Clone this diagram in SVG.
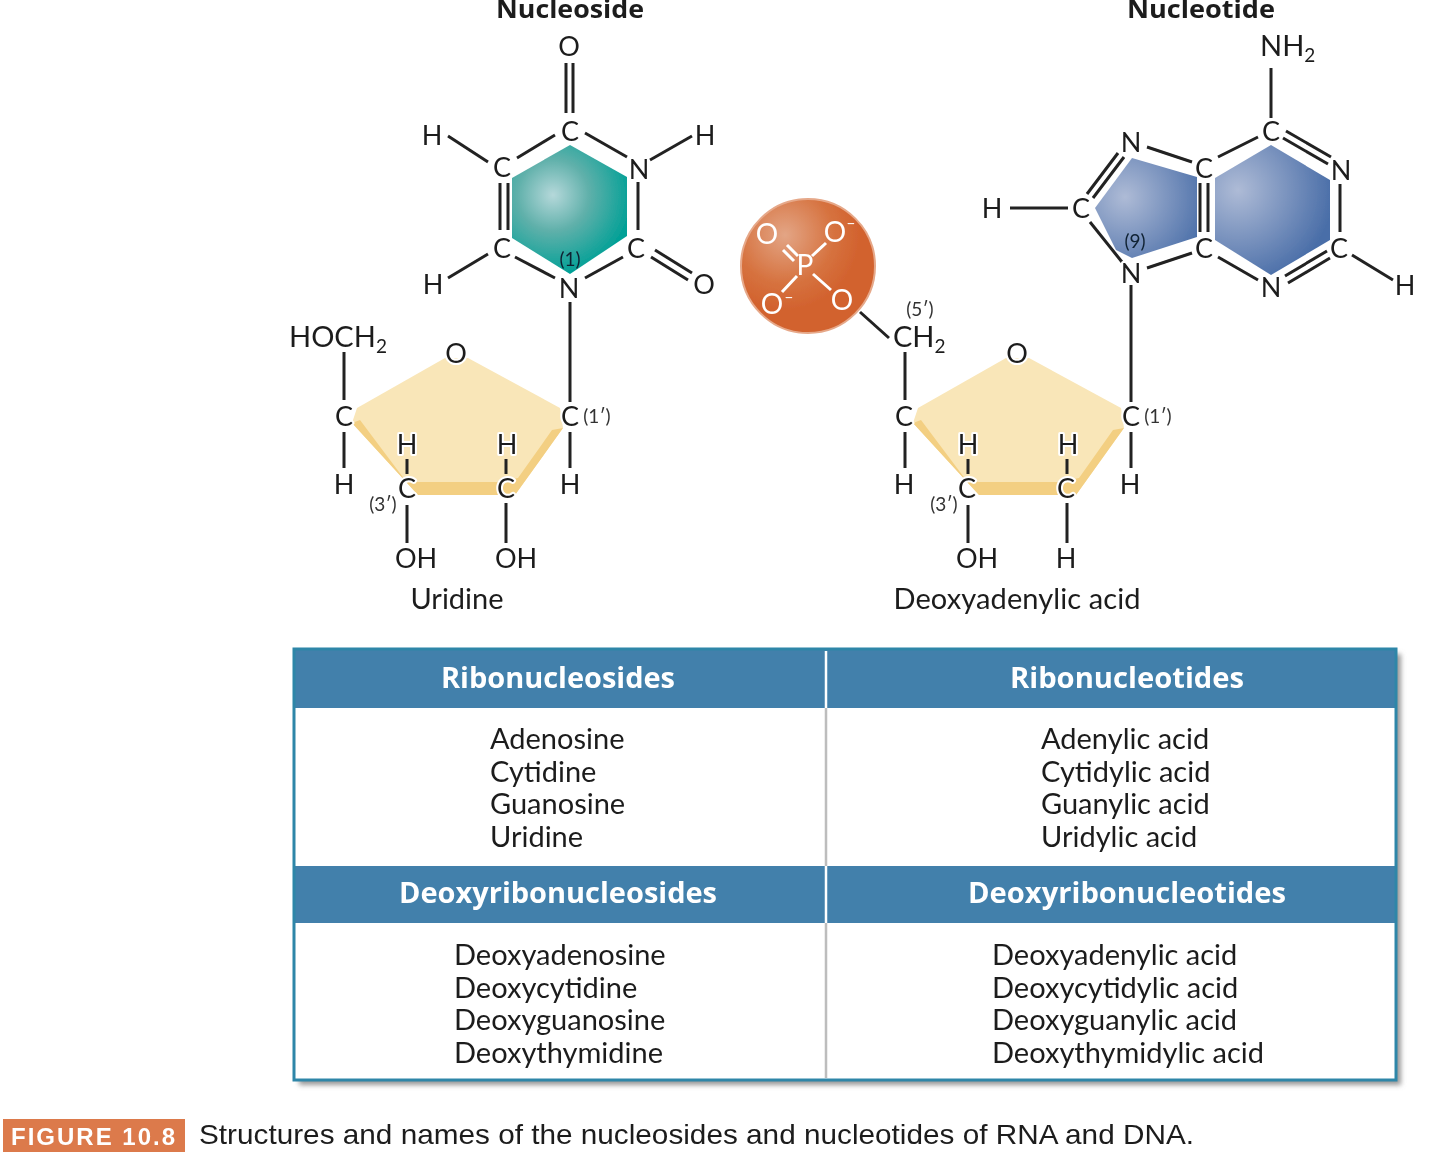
<svg xmlns="http://www.w3.org/2000/svg" width="1440" height="1172" viewBox="0 0 1440 1172">
<style>
text{font-family:"Lato","Open Sans","Liberation Sans",sans-serif;fill:#1c1c1c}
.a{font-size:27px;text-anchor:middle;paint-order:stroke;stroke:#fff;stroke-width:4px;stroke-linejoin:round}
.f{font-size:29px}
.s{font-size:19px}
.sm{font-size:19px;text-anchor:middle;fill:#333}
.t{font-size:29px}
.b{font-family:"Open Sans","Liberation Sans",sans-serif;font-size:25px;font-weight:700;text-anchor:middle}
.h{font-family:"Open Sans","Liberation Sans",sans-serif;font-size:28px;font-weight:700;text-anchor:middle;fill:#fff}
.w{font-size:28px;text-anchor:middle;fill:#fff}
.bond{stroke:#222;stroke-width:3;fill:none;stroke-linecap:butt}
.wb{stroke:#fff;stroke-width:3;fill:none}
.top{fill:#F9E6B8}
.und{fill:#F3CF82}
</style>
<defs>
<filter id="soft" x="-2%" y="-2%" width="104%" height="104%"><feGaussianBlur stdDeviation="0.6"/></filter>
<filter id="shadow" x="-3%" y="-3%" width="106%" height="106%"><feGaussianBlur stdDeviation="2.5"/></filter>
<radialGradient id="teal" gradientUnits="userSpaceOnUse" cx="553" cy="195" r="80"><stop offset="0" stop-color="#B5D8DA"/><stop offset="0.45" stop-color="#5FB0AA"/><stop offset="1" stop-color="#00A096"/></radialGradient>
<radialGradient id="blue1" gradientUnits="userSpaceOnUse" cx="1125" cy="197" r="85"><stop offset="0" stop-color="#AEBBD6"/><stop offset="1" stop-color="#4A6EA8"/></radialGradient>
<radialGradient id="blue2" gradientUnits="userSpaceOnUse" cx="1238" cy="190" r="95"><stop offset="0" stop-color="#AEBBD6"/><stop offset="1" stop-color="#4A6EA8"/></radialGradient>
<radialGradient id="orange" gradientUnits="userSpaceOnUse" cx="785" cy="235" r="75"><stop offset="0" stop-color="#E3A585"/><stop offset="0.65" stop-color="#D6723F"/><stop offset="1" stop-color="#D2622E"/></radialGradient>
</defs>
<rect width="1440" height="1172" fill="#fff"/>
<g filter="url(#soft)">
<text class="b" x="570" y="18" textLength="148" lengthAdjust="spacingAndGlyphs">Nucleoside</text>
<text class="b" x="1201" y="18" textLength="148" lengthAdjust="spacingAndGlyphs">Nucleotide</text>

<g id="base-uracil">
<polygon points="570,145 627,177 627,236 570,274 512,238 512,178" fill="url(#teal)"/>
</g>
<g id="sugar-ribose">
<polygon class="top" points="445,358 468,358 560,408 563,428 515,495 418,495 352,423 357,408"/>
<polygon class="und" points="352,423 360,420 405,480 418,482 497,482 518,478 552,430 563,428 515,495 418,495"/>
</g>
<g id="base-adenine">
<polygon points="1132,158 1197,177 1197,237 1132,258 1116,250 1095,208" fill="url(#blue1)"/>
<polygon points="1271,145 1330,180 1330,240 1271,275 1215,240 1215,178" fill="url(#blue2)"/>
</g>
<g id="sugar-deoxyribose">
<polygon class="top" points="1006,358 1029,358 1121,408 1124,428 1076,495 979,495 913,423 918,408"/>
<polygon class="und" points="913,423 921,420 966,480 979,482 1058,482 1079,478 1113,430 1124,428 1076,495 979,495"/>
</g>

<g id="connectors" class="bond">
<path d="M566 63V113M573 63V113M585 133L627 157M517 158L555 135M448 136L488 162M650 160L692 136M500 183V230M508 183V230M638 182V230M448 278L488 254M515 257L555 278M585 278L623 257M655 250L692 273M651 257L688 280M570 302V402"/>
<path d="M344 352V400M344 432V468M407 459V474M407 505V543M506 459V474M506 503V543M570 432V468"/>
<path d="M860 312L889 338M905 352V400M905 432V468M968 459V474M968 505V543M1067 459V474M1067 503V543M1131 285V402M1131 432V468"/>
<path d="M1271 68V118M1218 157L1258 137M1286 131L1331 157M1283 138L1328 164M1340 184V232M1327 251L1285 276M1330 258L1288 283M1258 280L1218 257M1200 183V232M1208 183V232M1147 147L1192 162M1118 153L1087 194M1124 157L1093 198M1090 222L1122 262M1147 268L1192 253M1352 255L1393 280M1010 208H1068"/>
</g>

<g id="uracil-atoms">
<text class="a" x="569" y="56">O</text><text class="a" x="570" y="141">C</text><text class="a" x="432" y="145">H</text>
<text class="a" x="502" y="177">C</text><text class="a" x="639" y="179">N</text><text class="a" x="705" y="145">H</text>
<text class="a" x="502" y="258">C</text><text class="a" x="636" y="258">C</text><text class="a" x="433" y="294">H</text>
<text class="a" x="569" y="298">N</text><text class="a" x="704" y="294">O</text>
<text class="sm" x="570" y="266" style="fill:#123">(1)</text>
</g>
<g id="ribose-atoms">
<text class="f" x="289" y="347">HOCH<tspan class="s" dy="6">2</tspan></text>
<text class="a" x="456" y="363">O</text><text class="a" x="344" y="426">C</text><text class="a" x="344" y="494">H</text>
<text class="a" x="407" y="454">H</text><text class="a" x="407" y="498">C</text><text class="a" x="507" y="454">H</text><text class="a" x="506" y="498">C</text>
<text class="a" x="570" y="426">C</text><text class="sm" x="597" y="423">(1′)</text><text class="a" x="570" y="494">H</text>
<text class="sm" x="383" y="511">(3′)</text><text class="a" x="416" y="568">OH</text><text class="a" x="516" y="568">OH</text>
<text class="t" x="457" y="609" text-anchor="middle">Uridine</text>
</g>
<g id="phosphate">
<circle cx="808" cy="266" r="67" fill="url(#orange)" stroke="#E6A889" stroke-width="2"/>
<path class="wb" d="M787 245L798 256M783 250L794 261M826 243L812 256M797 276L782 292M813 274L831 290"/>
<text class="w" x="767" y="244">O</text><text class="w" x="835" y="242">O</text><text class="w" x="805" y="275">P</text><text class="w" x="772" y="314">O</text><text class="w" x="842" y="310">O</text>
<text class="w" x="851" y="228" style="font-size:16px">–</text><text class="w" x="789" y="302" style="font-size:16px">–</text>
</g>
<g id="adenine-atoms">
<text class="f" x="1260" y="56">NH<tspan class="s" dy="6">2</tspan></text>
<text class="a" x="992" y="218">H</text><text class="a" x="1081" y="218">C</text><text class="a" x="1131" y="152">N</text>
<text class="a" x="1204" y="178">C</text><text class="a" x="1271" y="141">C</text><text class="a" x="1341" y="180">N</text>
<text class="a" x="1339" y="258">C</text><text class="a" x="1405" y="295">H</text><text class="a" x="1271" y="297">N</text>
<text class="a" x="1204" y="258">C</text><text class="a" x="1131" y="283">N</text>
<text class="sm" x="1135" y="248" style="fill:#123">(9)</text>
</g>
<g id="deoxyribose-atoms">
<text class="sm" x="920" y="316">(5′)</text>
<text class="f" x="893" y="347">CH<tspan class="s" dy="6">2</tspan></text>
<text class="a" x="1017" y="363">O</text><text class="a" x="904" y="426">C</text><text class="a" x="904" y="494">H</text>
<text class="a" x="968" y="454">H</text><text class="a" x="967" y="498">C</text><text class="a" x="1068" y="454">H</text><text class="a" x="1066" y="498">C</text>
<text class="a" x="1131" y="426">C</text><text class="sm" x="1158" y="423">(1′)</text><text class="a" x="1130" y="494">H</text>
<text class="sm" x="944" y="511">(3′)</text><text class="a" x="977" y="568">OH</text><text class="a" x="1066" y="568">H</text>
<text class="t" x="1017" y="609" text-anchor="middle" textLength="247">Deoxyadenylic acid</text>
</g>

<g id="table">
<rect x="299" y="654" width="1102" height="431" fill="#999" filter="url(#shadow)"/>
<rect x="294" y="649" width="1102" height="431" fill="#fff"/>
<rect x="294" y="649" width="1102" height="59" fill="#4280AB"/>
<rect x="294" y="866" width="1102" height="57" fill="#4280AB"/>
<path d="M826 708V866M826 923V1078" stroke="#BDBDBD" stroke-width="2.5"/>
<path d="M826 651V708M826 866V923" stroke="#fff" stroke-width="2.5"/>
<rect x="294" y="649" width="1102" height="431" fill="none" stroke="#2E86A8" stroke-width="3"/>
<text class="h" x="558" y="688" textLength="234" lengthAdjust="spacingAndGlyphs">Ribonucleosides</text>
<text class="h" x="1127" y="688" textLength="234" lengthAdjust="spacingAndGlyphs">Ribonucleotides</text>
<text class="h" x="558" y="903" textLength="318" lengthAdjust="spacingAndGlyphs">Deoxyribonucleosides</text>
<text class="h" x="1127" y="903" textLength="318" lengthAdjust="spacingAndGlyphs">Deoxyribonucleotides</text>
<text class="t" x="490" y="749">Adenosine</text><text class="t" x="490" y="782">Cytidine</text><text class="t" x="490" y="814">Guanosine</text><text class="t" x="490" y="847">Uridine</text>
<text class="t" x="1041" y="749">Adenylic acid</text><text class="t" x="1041" y="782">Cytidylic acid</text><text class="t" x="1041" y="814">Guanylic acid</text><text class="t" x="1041" y="847">Uridylic acid</text>
<text class="t" x="454" y="965">Deoxyadenosine</text><text class="t" x="454" y="998">Deoxycytidine</text><text class="t" x="454" y="1030">Deoxyguanosine</text><text class="t" x="454" y="1063">Deoxythymidine</text>
<text class="t" x="992" y="965">Deoxyadenylic acid</text><text class="t" x="992" y="998">Deoxycytidylic acid</text><text class="t" x="992" y="1030">Deoxyguanylic acid</text><text class="t" x="992" y="1063">Deoxythymidylic acid</text>
</g>

<g id="caption">
<rect x="3" y="1119" width="182" height="33" fill="#DC7A4B"/>
<text x="11" y="1145" font-size="24" font-weight="700" letter-spacing="2" style="font-family:'Liberation Sans',sans-serif;fill:#fff">FIGURE 10.8</text>
<text x="199" y="1144" font-size="28" textLength="995" lengthAdjust="spacingAndGlyphs" style="font-family:'Liberation Sans',sans-serif">Structures and names of the nucleosides and nucleotides of RNA and DNA.</text>
</g>
</g>
</svg>
